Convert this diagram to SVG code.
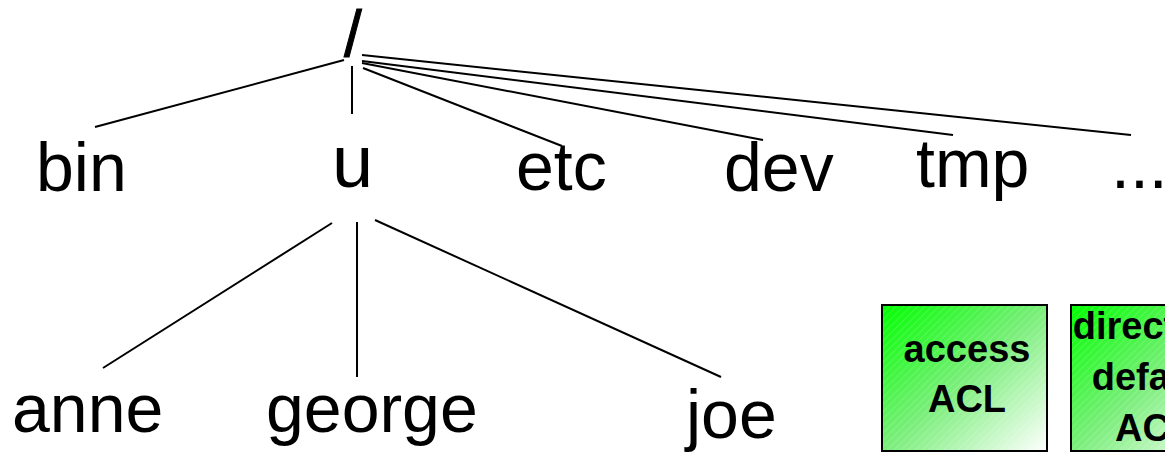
<svg xmlns="http://www.w3.org/2000/svg" width="1165" height="456" viewBox="0 0 1165 456">
<style>
.lbl{font-family:"Liberation Sans",Arial,sans-serif;font-size:68px;fill:#000}
.box{stroke:#000;stroke-width:2}
.bt{font-family:"Liberation Sans",Arial,sans-serif;font-size:38px;font-weight:bold;fill:#000;text-anchor:middle}
.cn line{stroke:#000;stroke-width:2;stroke-linecap:butt}
</style>
<defs>
<linearGradient id="g" x1="0" y1="0" x2="1" y2="1">
<stop offset="0" stop-color="#00ff00"/>
<stop offset="0.5" stop-color="#7aee7a"/>
<stop offset="1" stop-color="#ffffff"/>
</linearGradient>
<pattern id="h" width="5" height="5" patternUnits="userSpaceOnUse" patternTransform="rotate(45)">
<line x1="0" y1="0" x2="0" y2="5" stroke="#ffffff" stroke-width="1" stroke-opacity="0.3"/>
</pattern>
</defs>
<rect width="1165" height="456" fill="#fff"/>
<g class="cn" id="connectors">
<line x1="344" y1="60" x2="95" y2="127"/>
<line x1="352" y1="66" x2="352" y2="114"/>
<line x1="363" y1="68" x2="562" y2="146"/>
<line x1="362" y1="63" x2="763" y2="140"/>
<line x1="362" y1="61" x2="953" y2="135"/>
<line x1="362" y1="55" x2="1131" y2="135"/>
<line x1="332" y1="223" x2="103" y2="368"/>
<line x1="357" y1="222" x2="357" y2="377"/>
<line x1="375" y1="220" x2="721" y2="377"/>
</g>
<g id="root"><text class="lbl" x="344" y="56" style="font-size:64px;stroke:#000;stroke-width:1">/</text></g>
<g id="bin"><text class="lbl" x="36" y="191">bin</text></g>
<g id="u"><text class="lbl" x="332" y="187" style="font-size:74px">u</text></g>
<g id="etc"><text class="lbl" x="516" y="190">etc</text></g>
<g id="dev"><text class="lbl" x="724" y="191">dev</text></g>
<g id="tmp"><text class="lbl" x="916" y="187">tmp</text></g>
<g id="more"><text class="lbl" x="1111" y="188">...</text></g>
<g id="anne"><text class="lbl" x="12" y="432">anne</text></g>
<g id="george"><text class="lbl" x="266" y="432">george</text></g>
<g id="joe"><text class="lbl" x="686" y="438">joe</text></g>
<g id="access-acl">
<rect class="box" x="882" y="305" width="165" height="146" fill="url(#g)"/>
<rect x="883" y="306" width="163" height="144" fill="url(#h)"/>
<text class="bt" x="967" y="362">access</text>
<text class="bt" x="967" y="412">ACL</text>
</g>
<g id="default-acl">
<rect class="box" x="1071" y="305" width="165" height="146" fill="url(#g)"/>
<rect x="1072" y="306" width="163" height="144" fill="url(#h)"/>
<text class="bt" x="1154" y="339">directory</text>
<text class="bt" x="1154" y="390">default</text>
<text class="bt" x="1154" y="441">ACL</text>
</g>
</svg>
